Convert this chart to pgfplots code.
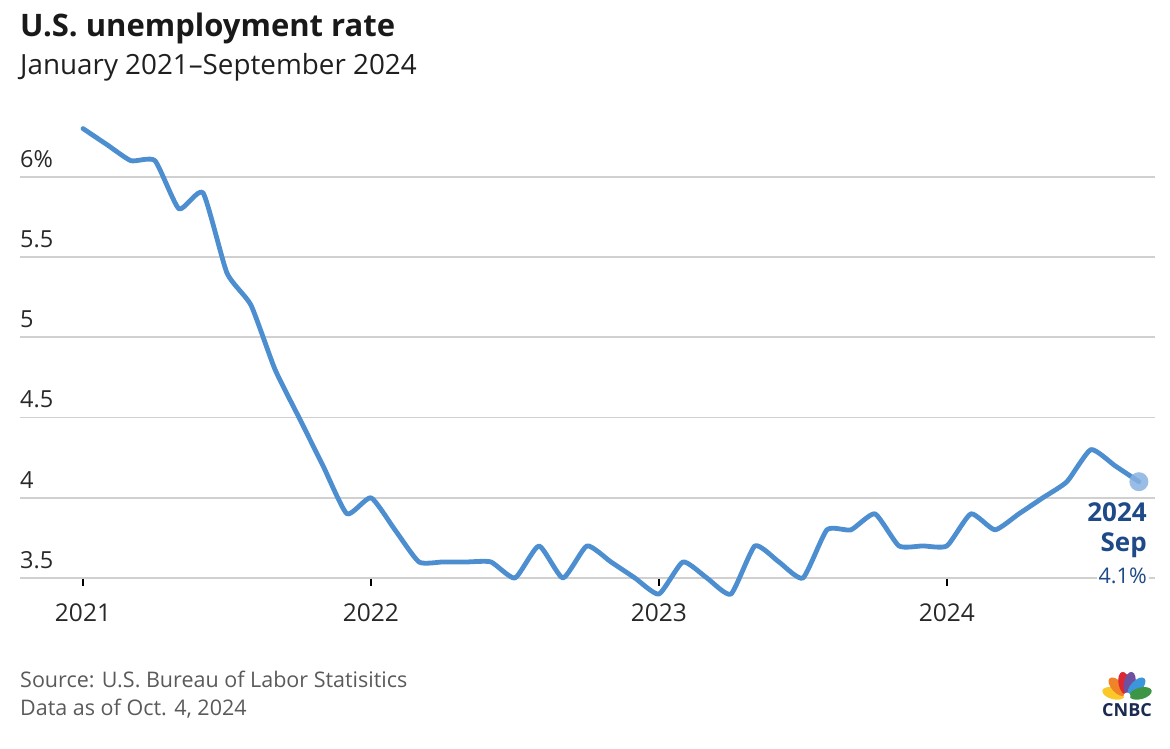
\documentclass[border=0pt]{standalone}
\usepackage{pgfplots}
\pgfplotsset{compat=1.18}
\usepackage{fontspec}
\setmainfont{Open Sans}
\definecolor{lineblue}{RGB}{76,142,207}
\definecolor{dotblue}{RGB}{135,178,225}
\definecolor{lblblue}{RGB}{30,74,135}
\definecolor{gridgray}{RGB}{208,208,208}
\definecolor{ticktext}{RGB}{40,40,40}
\definecolor{srcgray}{RGB}{90,90,90}
\definecolor{navy}{RGB}{26,42,80}
\begin{document}
\begin{tikzpicture}[x=1pt,y=1pt]
\path[use as bounding box] (0,0) rectangle (1170,748);
% titles
\node[anchor=base west, inner sep=0pt, text=black!90] at (20,711) {\fontsize{31}{36}\selectfont\bfseries U.S. unemployment rate};
\node[anchor=base west, inner sep=0pt, text=black!88] at (20,673) {\fontsize{27.8}{32}\selectfont January 2021–September 2024};
% source
\node[anchor=base west, inner sep=0pt, text=srcgray] at (20,61) {\fontsize{21.5}{24}\selectfont Source: U.S. Bureau of Labor Statisitics};
\node[anchor=base west, inner sep=0pt, text=srcgray] at (20,33) {\fontsize{21.5}{24}\selectfont Data as of Oct. 4, 2024};
% CNBC logo
\begin{scope}[shift={(1127,51)}]
  \foreach \ang/\col in {165/{rgb,255:red,250;green,200;blue,40}, 133/{rgb,255:red,240;green,130;blue,40}, 101/{rgb,255:red,220;green,40;blue,50}, 79/{rgb,255:red,110;green,80;blue,160}, 47/{rgb,255:red,60;green,150;blue,220}, 15/{rgb,255:red,60;green,150;blue,70}}{
    \fill[color=\col, rotate=\ang] (14,0) ellipse (11.5 and 5.8);
  }
  \fill[white] (0,1) circle (3.5);
\end{scope}
\node[anchor=base, inner sep=0pt, text=navy] at (1127,32) {\fontsize{18}{20}\selectfont\bfseries CNBC};
\begin{axis}[
  at={(20pt,170pt)}, anchor=south west,
  scale only axis, width=1135pt, height=449.4pt,
  xmin=-2.625, xmax=44.67, ymin=3.5, ymax=6.3,
  clip=false,
  axis line style={draw=none},
  ytick={4,4.5,5,5.5,6},
  yticklabels={4,4.5,5,5.5,6\%},
  extra y ticks={3.5},
  extra y tick labels={3.5},
  extra y tick style={grid style={gridgray, line width=2.4pt}},
  ymajorgrids,
  grid style={gridgray, line width=1.6pt},
  ytick style={draw=none},
  yticklabel style={anchor=south west, inner sep=0pt, xshift=8pt, yshift=9pt, font=\fontsize{23.5}{23}\selectfont, text=ticktext},
  xtick={0,12,24,36},
  xticklabels={2021,2022,2023,2024},
  xtick pos=left,
  tick align=outside,
  major tick length=8pt,
  xtick style={draw=black, line width=1.5pt},
  xticklabel style={anchor=north, inner sep=0pt, yshift=-18pt, font=\fontsize{24.5}{23}\selectfont, text=ticktext},
]
\addplot[lineblue, line width=4.8pt, smooth, tension=0.32, line cap=round, line join=round] coordinates {
(0,6.3) (1,6.2) (2,6.1) (3,6.1) (4,5.8) (5,5.9) (6,5.4) (7,5.2) (8,4.8) (9,4.5) (10,4.2) (11,3.9)
(12,4.0) (13,3.8) (14,3.6) (15,3.6) (16,3.6) (17,3.6) (18,3.5) (19,3.7) (20,3.5) (21,3.7) (22,3.6) (23,3.5)
(24,3.4) (25,3.6) (26,3.5) (27,3.4) (28,3.7) (29,3.6) (30,3.5) (31,3.8) (32,3.8) (33,3.9) (34,3.7) (35,3.7)
(36,3.7) (37,3.9) (38,3.8) (39,3.9) (40,4.0) (41,4.1) (42,4.3) (43,4.2) (44,4.1)
};
\addplot[dotblue, only marks, mark=*, mark size=9.5pt, mark options={draw opacity=0, fill=dotblue, fill opacity=0.85}] coordinates {(44,4.1)};
\node[anchor=base east, inner sep=0pt, text=lblblue] at (axis cs:44,4.1) [xshift=8pt, yshift=-40pt] {\fontsize{26}{26}\selectfont\bfseries 2024};
\node[anchor=base east, inner sep=0pt, text=lblblue] at (axis cs:44,4.1) [xshift=8pt, yshift=-70pt] {\fontsize{26}{26}\selectfont\bfseries Sep};
\node[anchor=base east, inner sep=2pt, fill=white, text=lblblue] at (axis cs:44,4.1) [xshift=10pt, yshift=-102pt] {\fontsize{21.5}{23}\selectfont 4.1\%};
\end{axis}
\end{tikzpicture}
\end{document}
